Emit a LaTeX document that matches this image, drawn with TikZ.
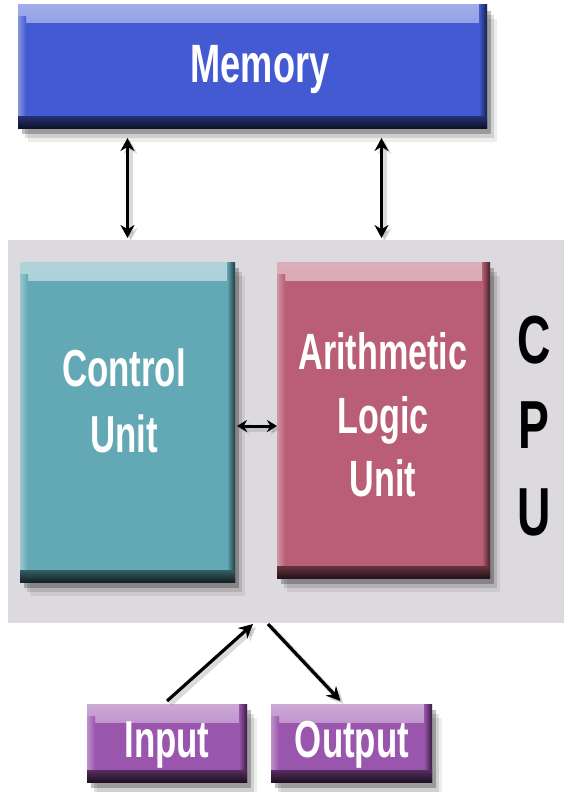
\documentclass[tikz,border=0pt]{standalone}
\usepackage{fontspec}
\newfontfamily\lblfont[FakeStretch=0.67]{Liberation Sans}
\newfontfamily\cpufont[FakeStretch=0.68]{Liberation Sans}
\usetikzlibrary{shadows,calc,arrows.meta}
\definecolor{memblue}{HTML}{435AD2}
\definecolor{cuteal}{HTML}{62A8B5}
\definecolor{alured}{HTML}{B95E74}
\definecolor{iopurple}{HTML}{9A55AD}
\definecolor{cpugray}{HTML}{DCDADE}
\tikzset{
  panel/.style={fill=cpugray, draw=none, anchor=north west},
  unitbox/.style={fill=#1, draw=none, anchor=north west,
    drop shadow={shadow xshift=10pt,shadow yshift=-14pt,opacity=.07,fill=black},
    drop shadow={shadow xshift=7pt,shadow yshift=-10pt,opacity=.12,fill=black},
    drop shadow={shadow xshift=4pt,shadow yshift=-6pt,opacity=.25,fill=black},
    path picture={
      \shade[top color=#1!50!white, bottom color=#1]
        (path picture bounding box.north west) rectangle ([yshift=-18pt]path picture bounding box.north east);
      \shade[left color=#1!65!white, right color=#1]
        ([yshift=-12pt]path picture bounding box.north west) rectangle ([xshift=8pt]path picture bounding box.south west);
      \shade[left color=#1, right color=#1!35!black]
        ([xshift=-8pt]path picture bounding box.north east) rectangle (path picture bounding box.south east);
      \shade[top color=#1!55!black, bottom color=#1!20!black]
        ([yshift=12pt]path picture bounding box.south west) rectangle (path picture bounding box.south east);
    }},
  memlbl/.style={text=white, inner sep=0pt, anchor=base,
    font={\lblfont\bfseries\fontsize{54}{64}\selectfont}},
  culbl/.style={text=white, align=center, inner sep=0pt,
    font={\lblfont\bfseries\fontsize{52}{66}\selectfont}},
  alulbl/.style={text=white, align=center, inner sep=0pt,
    font={\lblfont\bfseries\fontsize{51}{63.5}\selectfont}},
  iolbl/.style={text=white, inner sep=0pt, anchor=base,
    font={\lblfont\bfseries\fontsize{52}{60}\selectfont}},
  cpulbl/.style={text=black, inner sep=0pt, anchor=base,
    font={\cpufont\bfseries\fontsize{68}{70}\selectfont}},
  soft/.style={preaction={draw=black!40, opacity=0.35, line width=5pt,
    transform canvas={shift={(3pt,-3pt)}}}},
  twoway/.style={soft, line width=3.2pt, draw=black,
    {Stealth[length=13pt,width=14pt]}-{Stealth[length=13pt,width=14pt]}},
  shortway/.style={soft, line width=3pt, draw=black,
    {Stealth[length=10pt,width=12pt]}-{Stealth[length=10pt,width=12pt]}},
  oneway/.style={soft, line width=3.2pt, draw=black, -{Stealth[length=14pt,width=14pt]}},
}
\begin{document}
\begin{tikzpicture}[x=1pt,y=-1pt, every node/.style={inner sep=0pt, outer sep=0pt}]
\useasboundingbox (0,0) rectangle (564,792);
\fill[white] (0,0) rectangle (564,792);

% CPU panel
\node[panel, minimum width=556pt, minimum height=383pt] (cpu) at (8,240) {};

% boxes
\node[unitbox=memblue, minimum width=469pt, minimum height=123pt] (mem) at (18,5) {};
\node[unitbox=cuteal, minimum width=215pt, minimum height=320pt] (cu) at (20,262) {};
\node[unitbox=alured, minimum width=213pt, minimum height=316pt] (alu) at (277,262) {};
\node[unitbox=iopurple, minimum width=160pt, minimum height=78pt] (inp) at (87,704) {};
\node[unitbox=iopurple, minimum width=161pt, minimum height=78pt] (outp) at (271,704) {};

% labels
\node[memlbl] (memtext) at (260,82) {Memory};
\node[culbl] (cutext) at (124,401) {Control\\Unit};
\node[alulbl] (alutext) at (383,415) {Arithmetic\\Logic\\Unit};
\node[iolbl] (inptext) at (167,757) {Input};
\node[iolbl] (outtext) at (352,757) {Output};
\node[cpulbl] (cpuC) at (534,363) {C};
\node[cpulbl] (cpuP) at (534,448) {P};
\node[cpulbl] (cpuU) at (534,535) {U};

% connectors
\draw[twoway] ($(mem.south -| cu.north)+(0,10)$) -- ($(cpu.north -| cu.north)+(0,-2)$);
\draw[twoway] ($(mem.south -| alu.north)+(-2,10)$) -- ($(cpu.north -| alu.north)+(-2,-2)$);
\draw[shortway] ($(cu.east)+(2,4)$) -- ($(cu.east -| alu.west)+(0,4)$);
\coordinate (cin) at ($(cpu.south)+(-33,1)$);
\coordinate (cout) at ($(cpu.south)+(-18,1)$);
\draw[oneway] ($(inp.north)+(0,-3)$) -- (cin);
\draw[oneway] (cout) -- ($(outp.north)+(-11,-3)$);
\end{tikzpicture}
\end{document}
